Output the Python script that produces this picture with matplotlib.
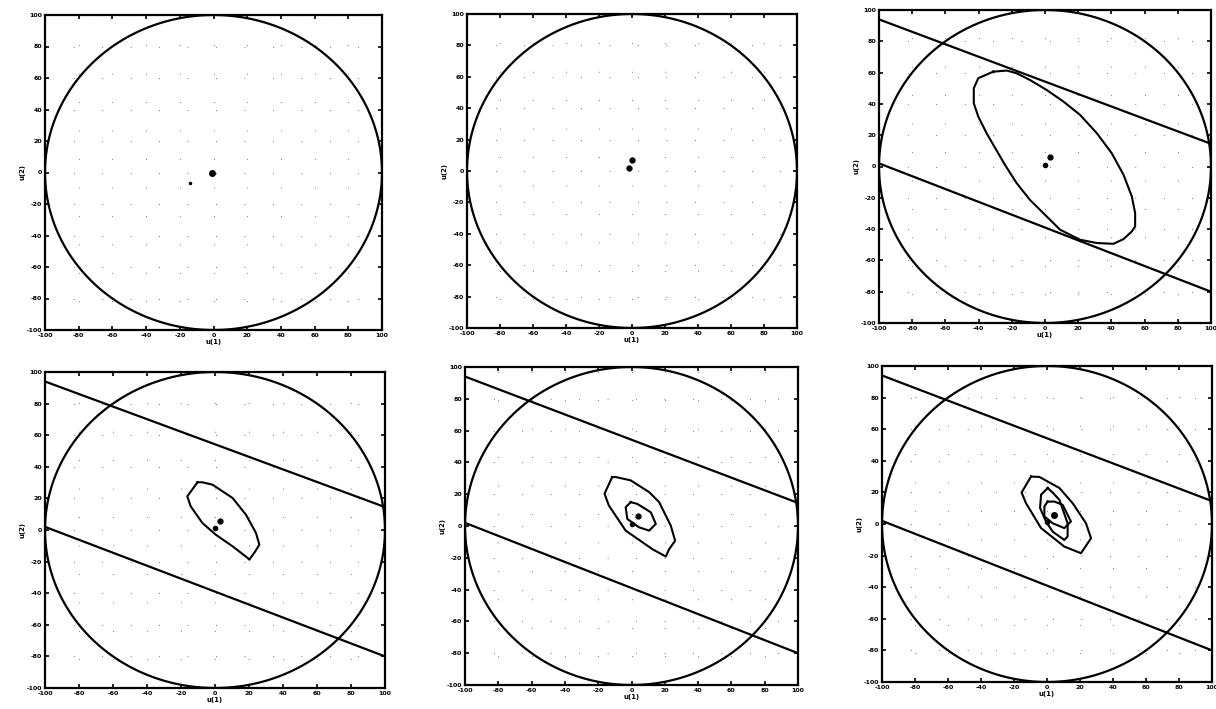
import numpy as np
import matplotlib
matplotlib.use("Agg")
import matplotlib.pyplot as plt

# ---- data ----
ticks = [-100, -80, -60, -40, -20, 0, 20, 40, 60, 80, 100]
radius = 100

# parallel constraint lines (x endpoints, y endpoints)
upper_line_x = [-100, 100]
upper_line_y = [94, 14.5]
lower_line_x = [-100, 100]
lower_line_y = [2, -80]

# panel 3 contour
c3_x = [-31.2, -40.2, -42.9, -42.9, -40.2, -35.2, -24.1, -17.1, -9.1, 1.0, 9.1, 21.1, 31.2, 41.2,
        47.3, 52.3, 54.3, 54.3, 52.3, 47.3, 40.2, 31.2, 21.1, 11.1, 1.0, -9.1, -17.1, -23.1, -31.2]
c3_y = [60.6, 56.4, 50.0, 40.4, 31.9, 21.3, 1.0, -10.6, -21.3, -31.9, -40.4, -46.8, -48.9, -49.4,
        -46.4, -41.5, -38.3, -29.8, -19.1, -5.3, 8.5, 21.3, 33.0, 41.5, 48.9, 55.3, 59.6, 61.3, 60.6]

# panel 4 contour
c4_x = [-10.3, -16.3, -14.3, -7.4, 0.5, 10.3, 19.2, 20.2, 23.7, 26.1, 24.1, 18.2, 10.3, -1.5, -7.4, -10.3]
c4_y = [30.2, 21.3, 15.0, 4.4, -3.0, -10.3, -17.7, -18.8, -13.5, -9.3, -1.9, 9.7, 20.3, 28.7, 30.2, 30.2]

# panel 5 contours
c5a_x = [-11.6, -16.2, -13.6, -3.5, 12.6, 20.6, 22.6, 26.2, 23.6, 16.6, 10.6, -0.5, -9.5, -11.6]
c5a_y = [30.8, 20.3, 12.9, -2.9, -14.6, -19.2, -14.6, -9.3, 0.2, 15.0, 21.3, 28.7, 30.8, 30.8]
c5b_x = [-0.5, -3.5, -2.5, 4.5, 10.6, 14.6, 11.6, 3.5, -0.5]
c5b_y = [15.0, 11.8, 4.4, -0.8, -2.9, 1.3, 8.6, 13.9, 15.0]

# panel 6 contours
c6a_x = [-9.7, -15.4, -12.7, -3.6, 10.5, 20.6, 26.7, 23.6, 15.6, 7.5, -4.6, -9.7]
c6a_y = [30.0, 19.9, 13.1, -2.6, -14.3, -18.5, -9.0, 0.5, 13.1, 22.8, 29.8, 30.0]
c6b_x = [0.4, -3.6, -4.2, -0.6, 3.4, 10.5, 12.5, 12.5, 7.5, 3.4, 0.4]
c6b_y = [22.8, 18.5, 10.1, 1.6, -4.8, -10.1, -7.9, 0.5, 15.3, 19.9, 22.8]
c6c_x = [0.4, -1.6, -1.6, 3.4, 10.5, 14.5, 9.5, 4.5, 0.4]
c6c_y = [14.2, 11.1, 4.8, 0.5, -2.6, 1.6, 12.1, 14.2, 14.2]

# centre markers per panel: (x, y, size)
markers = [
    [(-1, 0, 4.0), (-14, -6.5, 1.5)],
    [(0, 7, 3.5), (-2, 2, 3.5)],
    [(3, 6, 3.5), (0, 1, 3.0)],
    [(3, 6, 3.5), (0, 1, 3.0)],
    [(4, 6, 3.5), (0, 1, 3.0)],
    [(4, 6, 4.0), (0, 1, 3.0)],
]

contours = [
    [],
    [],
    [(c3_x, c3_y)],
    [(c4_x, c4_y)],
    [(c5a_x, c5a_y), (c5b_x, c5b_y)],
    [(c6a_x, c6a_y), (c6b_x, c6b_y), (c6c_x, c6c_y)],
]
has_lines = [False, False, True, True, True, True]

# axes pixel boxes (left, right, top, bottom)
boxes = [
    (45, 382, 15, 330),
    (467, 797, 14, 328),
    (879, 1211, 10, 323),
    (45, 385, 372, 688),
    (465, 798, 367, 685),
    (882, 1212, 366, 682),
]

W, H = 1216, 709
fig = plt.figure(figsize=(W / 100, H / 100), dpi=100)

theta = np.linspace(0, 2 * np.pi, 400)
for i, (l, r, t, b) in enumerate(boxes):
    ax = fig.add_axes([l / W, 1 - b / H, (r - l) / W, (b - t) / H])
    ax.set_xlim(-100, 100)
    ax.set_ylim(-100, 100)
    ax.plot(radius * np.cos(theta), radius * np.sin(theta), color='black', lw=1.6)
    if has_lines[i]:
        ax.plot(upper_line_x, upper_line_y, color='black', lw=1.6)
        ax.plot(lower_line_x, lower_line_y, color='black', lw=1.6)
    for cx, cy in contours[i]:
        ax.plot(cx, cy, color='black', lw=1.5)
    for (mx, my, ms) in markers[i]:
        ax.plot([mx], [my], 'o', color='black', ms=ms)
    ax.set_xticks(ticks)
    ax.set_yticks(ticks)
    ax.set_xticklabels([str(v) for v in ticks], fontsize=4.5, fontweight='bold')
    ax.set_yticklabels([str(v) for v in ticks], fontsize=4.5, fontweight='bold')
    ax.tick_params(direction='in', length=3, width=1.2, top=True, right=True, pad=2)
    ax.grid(True, linestyle=(0, (0.6, 25)), color='0.3', lw=0.8)
    for s in ax.spines.values():
        s.set_linewidth(1.6)
    ax.set_xlabel('u(1)', fontsize=5, fontweight='bold', labelpad=1)
    ax.set_ylabel('u(2)', fontsize=5, fontweight='bold', labelpad=1)

fig.savefig('out.png', dpi=100, facecolor='white')
